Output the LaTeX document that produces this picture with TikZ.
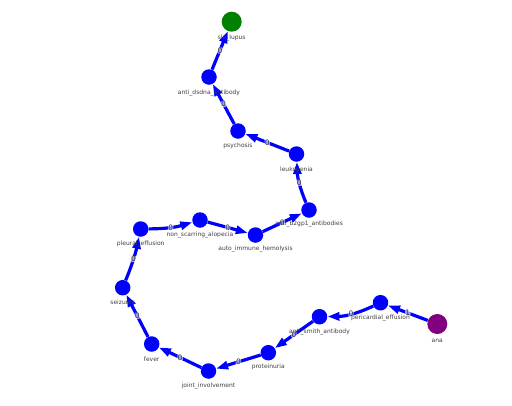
\documentclass[tikz,border=0pt]{standalone}
\usepackage{fontspec}
\setmainfont{DejaVu Sans}
\usetikzlibrary{arrows.meta}
\definecolor{nblue}{RGB}{0,0,255}
\definecolor{ngreen}{RGB}{0,128,0}
\definecolor{npurple}{RGB}{128,0,128}
\begin{document}
\begin{tikzpicture}[x=1pt,y=-1pt,
  bnode/.style={circle,fill=nblue,minimum size=15.5pt,inner sep=0pt,draw=none},
  gnode/.style={circle,fill=ngreen,minimum size=20pt,inner sep=0pt,draw=none},
  pnode/.style={circle,fill=npurple,minimum size=20pt,inner sep=0pt,draw=none},
  lbl/.style={font=\fontsize{6}{7}\selectfont,text=black!75,inner sep=0pt},
  edge/.style={draw=nblue,line width=3.2pt,-{Triangle[length=12pt,width=8pt]}},
  elbl/.style={font=\fontsize{7.5}{8}\selectfont,text=black!80,fill=white,fill opacity=0.6,text opacity=1,inner sep=0.3pt,rounded corners=1pt}]
\useasboundingbox (0,0) rectangle (512,405);
% nodes
\node[gnode] (sle) at (231.7,21.7) {};
\node[bnode] (dsdna) at (209,77) {};
\node[bnode] (psy) at (238,131) {};
\node[bnode] (leuk) at (296.5,154) {};
\node[bnode] (b2gp1) at (309,210) {};
\node[bnode] (aih) at (255.5,235) {};
\node[bnode] (nsa) at (200,220) {};
\node[bnode] (pleu) at (140.7,229) {};
\node[bnode] (seiz) at (122.7,287.7) {};
\node[bnode] (fever) at (151.7,344) {};
\node[bnode] (joint) at (208.5,371) {};
\node[bnode] (prot) at (268.3,352.7) {};
\node[bnode] (smith) at (319.5,316.7) {};
\node[bnode] (peri) at (380.5,302.7) {};
\node[pnode] (ana) at (437.3,324) {};
% edges
\draw[edge] (ana) to node[elbl] (e1) {1} (peri);
\draw[edge] (peri) to[bend left=12] node[elbl] (e2) {0} (smith);
\draw[edge] (smith) to node[elbl] (e3) {0} (prot);
\draw[edge] (prot) to node[elbl] (e4) {0} (joint);
\draw[edge] (joint) to node[elbl] (e5) {0} (fever);
\draw[edge] (fever) to node[elbl] (e6) {0} (seiz);
\draw[edge] (seiz) to[bend right=5] node[elbl] (e7) {0} (pleu);
\draw[edge] (pleu) to[bend right=8] node[elbl] (e8) {0} (nsa);
\draw[edge] (nsa) to node[elbl] (e9) {0} (aih);
\draw[edge] (aih) to node[elbl] (e10) {0} (b2gp1);
\draw[edge] (b2gp1) to[bend left=10] node[elbl] (e11) {0} (leuk);
\draw[edge] (leuk) to node[elbl] (e12) {0} (psy);
\draw[edge] (psy) to node[elbl] (e13) {0} (dsdna);
\draw[edge] (dsdna) to node[elbl] (e14) {0} (sle);
% labels
\node[lbl] (sle-l) at (231.7,38) {sle\_lupus};
\node[lbl] (dsdna-l) at (209,92.5) {anti\_dsdna\_antibody};
\node[lbl] (psy-l) at (238,145.5) {psychosis};
\node[lbl] (leuk-l) at (296.5,170) {leukopenia};
\node[lbl] (b2gp1-l) at (309,224) {anti\_b2gp1\_antibodies};
\node[lbl] (aih-l) at (255.5,249) {auto\_immune\_hemolysis};
\node[lbl] (nsa-l) at (200,235) {non\_scarring\_alopecia};
\node[lbl] (pleu-l) at (140.7,243.5) {pleural\_effusion};
\node[lbl] (seiz-l) at (122.7,302) {seizures};
\node[lbl] (fever-l) at (151.7,359) {fever};
\node[lbl] (joint-l) at (208.5,386) {joint\_involvement};
\node[lbl] (prot-l) at (268.3,367) {proteinuria};
\node[lbl] (smith-l) at (319.5,332) {anti\_smith\_antibody};
\node[lbl] (peri-l) at (380.5,318) {pericardial\_effusion};
\node[lbl] (ana-l) at (437.3,341) {ana};
\end{tikzpicture}
\end{document}
